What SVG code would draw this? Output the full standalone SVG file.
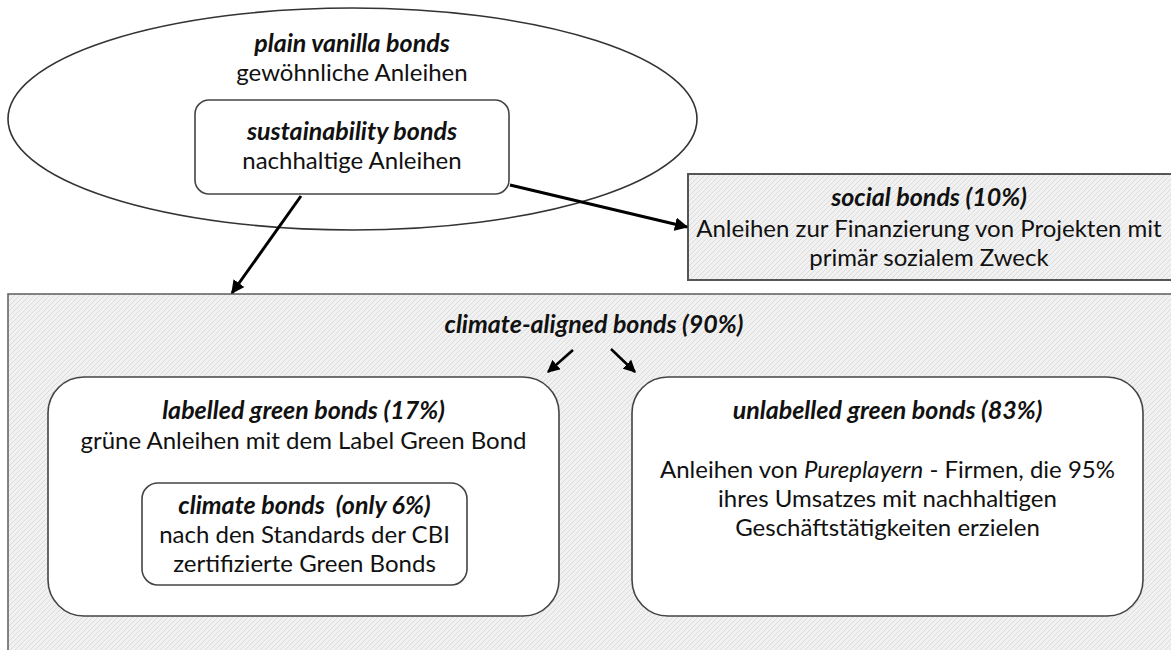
<svg xmlns="http://www.w3.org/2000/svg" width="1171" height="650" viewBox="0 0 1171 650">
  <defs>
    <pattern id="hatch" width="5" height="5" patternUnits="userSpaceOnUse">
      <rect width="5" height="5" fill="#f1f1f1"/>
      <path d="M-1,1 l2,-2 M0,5 l5,-5 M4,6 l2,-2" stroke="#dcdcdc" stroke-width="1"/>
    </pattern>
    <marker id="arr" viewBox="0 0 10 10" refX="9" refY="5" markerWidth="4.5" markerHeight="4.5" orient="auto" markerUnits="strokeWidth">
      <path d="M0,0 L10,5 L0,10 z" fill="#000"/>
    </marker>
    <marker id="arrs" viewBox="0 0 10 10" refX="9" refY="5" markerWidth="5" markerHeight="5" orient="auto" markerUnits="strokeWidth">
      <path d="M0,0 L10,5 L0,10 z" fill="#000"/>
    </marker>
  </defs>
  <style>
    text { font-family: "Lato", "Liberation Sans", sans-serif; font-size: 24px; fill: #111; text-anchor: middle; }
    .h { font-weight: bold; font-style: italic; font-size: 25px; }
    .i { font-style: italic; }
    .box { fill: #fff; stroke: #444; stroke-width: 1.6; }
    .hatch { fill: url(#hatch); }
    .conn { stroke: #000; stroke-width: 3; fill: none; }
    .connS { stroke: #000; stroke-width: 2.5; fill: none; }
  </style>

  <g id="climate-aligned">
    <rect x="8" y="294" width="1175" height="370" class="hatch" stroke="#666" stroke-width="1.6"/>
    <text x="594" y="333" class="h">climate-aligned bonds (90%)</text>
  </g>

  <g id="plain-vanilla">
    <ellipse cx="352.5" cy="119" rx="344.5" ry="111" fill="#fff" stroke="#333" stroke-width="1.6"/>
    <text x="352" y="52" class="h">plain vanilla bonds</text>
    <text x="352" y="81">gewöhnliche Anleihen</text>
  </g>

  <g id="sustainability">
    <rect x="195" y="100" width="314" height="94" rx="14" class="box"/>
    <text x="352" y="140" class="h">sustainability bonds</text>
    <text x="352" y="169">nachhaltige Anleihen</text>
  </g>

  <g id="social">
    <rect x="688" y="174" width="490" height="106" class="hatch" stroke="#555" stroke-width="2"/>
    <text x="929" y="206" class="h">social bonds (10%)</text>
    <text x="929" y="237">Anleihen zur Finanzierung von Projekten mit</text>
    <text x="929" y="266">primär sozialem Zweck</text>
  </g>

  <g id="labelled">
    <rect x="48" y="377" width="511" height="239" rx="36" class="box"/>
    <text x="303.5" y="419" class="h">labelled green bonds (17%)</text>
    <text x="303.5" y="449">grüne Anleihen mit dem Label Green Bond</text>
  </g>

  <g id="climate-bonds">
    <rect x="142" y="483" width="325" height="102" rx="16" class="box"/>
    <text x="304.5" y="514" class="h" xml:space="preserve">climate bonds  (only 6%)</text>
    <text x="304.5" y="543">nach den Standards der CBI</text>
    <text x="304.5" y="572">zertifizierte Green Bonds</text>
  </g>

  <g id="unlabelled">
    <rect x="632" y="377" width="511" height="239" rx="36" class="box"/>
    <text x="887.5" y="419" class="h">unlabelled green bonds (83%)</text>
    <text x="887.5" y="478">Anleihen von <tspan class="i">Pureplayern</tspan> - Firmen, die 95%</text>
    <text x="887.5" y="507">ihres Umsatzes mit nachhaltigen</text>
    <text x="887.5" y="536">Geschäftstätigkeiten erzielen</text>
  </g>

  <g id="connectors">
    <line x1="301" y1="196" x2="232" y2="293" class="conn" marker-end="url(#arr)"/>
    <line x1="510" y1="185" x2="687" y2="227" class="conn" marker-end="url(#arr)"/>
    <line x1="573" y1="350" x2="548" y2="372" class="connS" marker-end="url(#arrs)"/>
    <line x1="611" y1="349" x2="635" y2="372" class="connS" marker-end="url(#arrs)"/>
  </g>
</svg>
